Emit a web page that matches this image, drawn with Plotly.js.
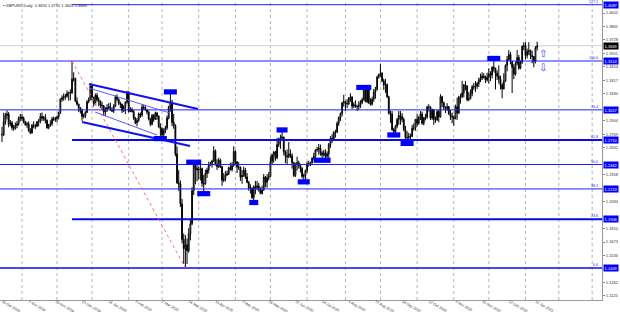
<!DOCTYPE html>
<html><head><meta charset="utf-8">
<script src="https://cdn.plot.ly/plotly-3.0.1.min.js"></script>
<style>html,body{margin:0;padding:0;background:#fff}#chart{width:620px;height:312px}</style>
</head><body><div id="chart"></div><script>
// ---- data: GBPUSD daily, 16 Oct 2019 .. 13 Jan 2021 ----
const symbolTitle = 'GBPUSD,Daily';
const startDate = [2019, 9, 16];
const holidays = ['2019-12-25','2020-01-01','2020-12-25','2021-01-01'];

const open = [
 1.2770,1.2765,1.2895,1.2960,1.2975,1.2870,1.2885,1.2835,1.2830,1.2860,1.2875,1.2935,
 1.2945,1.2930,1.2890,1.2865,1.2875,1.2805,1.2780,1.2860,1.2855,1.2850,1.2895,1.2900,1.2950,1.2930,1.2940,1.2910,1.2835,1.2860,1.2875,1.2925,1.2920,
 1.2930,1.2945,1.2990,1.3125,1.3140,1.3150,1.3155,1.3185,1.3195,1.3190,1.3330,1.3335,1.3105,1.3075,1.3035,1.3010,1.2950,1.2955,1.2990,1.3100,1.3120,
 1.3260,1.3145,1.3080,1.3165,1.3120,1.3105,1.3065,1.3060,1.2995,1.3020,1.3040,1.3050,1.3015,1.3005,1.3055,1.3150,1.3125,1.3085,1.3075,1.3010,1.3050,1.3095,
 1.3200,1.3000,1.3020,1.3000,1.2935,1.2885,1.2910,1.2975,1.2965,1.3045,1.3040,1.3015,1.2995,1.2925,1.2870,1.2960,1.2920,1.2985,1.2955,1.2845,
 1.2825,1.2765,1.2805,1.2835,1.2935,1.3050,1.3095,1.2890,1.2860,1.2570,1.2275,1.2265,1.2060,1.1700,1.1605,1.1645,1.1585,1.1755,1.1860,1.2195,1.2455,1.2420,
 1.2405,1.2410,1.2420,1.2270,1.2265,1.2370,1.2405,1.2455,1.2470,1.2495,1.2600,1.2465,1.2440,1.2505,1.2440,1.2300,1.2320,1.2355,1.2365,1.2430,1.2410,1.2450,
 1.2595,1.2490,1.2435,1.2435,1.2335,1.2350,1.2405,1.2335,1.2280,1.2220,1.2220,1.2125,1.2235,1.2225,1.2245,1.2210,1.2165,1.2200,1.2335,1.2280,1.2325,
 1.2340,1.2490,1.2560,1.2590,1.2530,1.2665,1.2720,1.2730,1.2740,1.2590,1.2550,1.2540,1.2570,1.2550,1.2480,1.2350,1.2470,1.2480,1.2450,1.2420,1.2340,1.2350,
 1.2400,1.2470,1.2470,1.2480,1.2525,1.2545,1.2610,1.2615,1.2630,1.2580,1.2560,1.2580,1.2545,1.2570,1.2665,1.2730,1.2720,1.2790,1.2790,1.2880,1.2940,1.2980,1.3090,
 1.3100,1.3080,1.3080,1.3140,1.3150,1.3055,1.3070,1.3050,1.3050,1.3060,1.3090,1.3120,1.3230,1.3100,1.3220,1.3090,1.3075,1.3125,1.3200,1.3225,1.3350,
 1.3375,1.3390,1.3310,1.3270,1.3275,1.3150,1.2980,1.2975,1.2815,1.2795,1.2850,1.2920,1.2960,1.2950,1.2920,1.2815,1.2735,1.2735,1.2750,1.2745,1.2830,1.2830,
 1.2920,1.2880,1.2940,1.2975,1.2880,1.2935,1.2945,1.3045,1.3045,1.2935,1.3020,1.2920,1.2915,1.3000,1.2945,1.3150,1.3090,1.3040,1.3030,1.3050,1.2980,1.2950,
 1.2945,1.2930,1.3050,1.2985,1.3150,1.3150,1.3190,1.3270,1.3260,1.3120,1.3130,1.3180,1.3250,1.3250,1.3260,1.3285,1.3320,1.3340,1.3360,1.3350,1.3320,
 1.3350,1.3385,1.3370,1.3450,1.3440,1.3390,1.3360,1.3330,1.3270,1.3230,1.3310,1.3470,1.3530,1.3580,1.3510,1.3450,1.3380,1.3490,1.3550,1.3440,1.3500,1.3665,
 1.3670,1.3570,1.3610,1.3620,1.3570,1.3560,1.3510,1.3650
];
const high = [
 1.2845,1.2988,1.2988,1.3012,1.2995,1.2915,1.2905,1.2865,1.2890,1.2905,1.2950,1.2975,
 1.2975,1.2950,1.2905,1.2895,1.2900,1.2830,1.2875,1.2900,1.2875,1.2905,1.2925,1.2985,1.2990,1.2955,1.2975,1.2920,1.2875,1.2910,1.2945,1.2950,1.2945,
 1.2960,1.3000,1.3135,1.3165,1.3185,1.3180,1.3215,1.3200,1.3225,1.3514,1.3400,1.3345,1.3145,1.3080,1.3045,1.3030,1.2980,1.3005,1.3115,1.3145,1.3285,
 1.3265,1.3150,1.3185,1.3190,1.3145,1.3115,1.3100,1.3065,1.3045,1.3075,1.3085,1.3090,1.3040,1.3075,1.3165,1.3175,1.3135,1.3100,1.3080,1.3065,1.3105,1.3210,
 1.3205,1.3045,1.3040,1.3015,1.2945,1.2935,1.2990,1.2990,1.3070,1.3070,1.3055,1.3025,1.3010,1.2935,1.2975,1.2975,1.3000,1.2995,1.2960,1.2880,
 1.2840,1.2830,1.2855,1.2960,1.3060,1.3200,1.3120,1.2975,1.2870,1.2645,1.2405,1.2300,1.2110,1.1760,1.1745,1.1710,1.1815,1.1900,1.2230,1.2485,1.2460,1.2480,
 1.2440,1.2480,1.2430,1.2355,1.2410,1.2430,1.2490,1.2490,1.2510,1.2647,1.2615,1.2515,1.2530,1.2520,1.2445,1.2375,1.2395,1.2400,1.2440,1.2480,1.2485,1.2647,
 1.2605,1.2495,1.2485,1.2440,1.2405,1.2440,1.2425,1.2375,1.2295,1.2260,1.2230,1.2250,1.2295,1.2295,1.2275,1.2230,1.2245,1.2365,1.2345,1.2365,1.2385,
 1.2545,1.2570,1.2595,1.2600,1.2730,1.2735,1.2765,1.2813,1.2745,1.2605,1.2615,1.2690,1.2615,1.2575,1.2490,1.2480,1.2540,1.2500,1.2470,1.2435,1.2370,1.2410,
 1.2490,1.2500,1.2490,1.2535,1.2580,1.2615,1.2640,1.2670,1.2665,1.2600,1.2610,1.2615,1.2595,1.2680,1.2750,1.2770,1.2800,1.2815,1.2900,1.2950,1.2990,1.3095,1.3170,
 1.3110,1.3125,1.3145,1.3185,1.3150,1.3095,1.3115,1.3070,1.3105,1.3115,1.3140,1.3245,1.3235,1.3240,1.3235,1.3135,1.3150,1.3230,1.3250,1.3365,1.3385,
 1.3482,1.3400,1.3335,1.3330,1.3285,1.3160,1.3010,1.3005,1.2835,1.2865,1.2935,1.3005,1.3005,1.2985,1.2940,1.2855,1.2800,1.2785,1.2775,1.2865,1.2880,1.2925,
 1.2975,1.2955,1.3005,1.3000,1.2945,1.2975,1.3060,1.3075,1.3055,1.3030,1.3025,1.2950,1.3015,1.3020,1.3177,1.3160,1.3100,1.3055,1.3085,1.3055,1.3015,1.2990,
 1.2960,1.3070,1.3140,1.3160,1.3180,1.3313,1.3280,1.3310,1.3265,1.3200,1.3225,1.3270,1.3290,1.3310,1.3300,1.3345,1.3385,1.3400,1.3390,1.3365,1.3395,
 1.3440,1.3410,1.3460,1.3540,1.3445,1.3420,1.3470,1.3365,1.3290,1.3390,1.3480,1.3565,1.3625,1.3605,1.3515,1.3480,1.3510,1.3625,1.3575,1.3520,1.3670,1.3705,
 1.3705,1.3640,1.3705,1.3630,1.3620,1.3565,1.3665,1.3710
];
const low = [
 1.2690,1.2750,1.2865,1.2920,1.2840,1.2850,1.2810,1.2805,1.2815,1.2830,1.2855,1.2900,
 1.2905,1.2880,1.2855,1.2835,1.2795,1.2770,1.2780,1.2830,1.2820,1.2840,1.2850,1.2880,1.2905,1.2905,1.2880,1.2825,1.2820,1.2845,1.2855,1.2905,1.2895,
 1.2890,1.2920,1.2975,1.3100,1.3110,1.3120,1.3140,1.3110,1.3115,1.3180,1.3305,1.3095,1.3060,1.2995,1.2980,1.2905,1.2930,1.2935,1.2985,1.3085,1.3115,
 1.3115,1.3050,1.3065,1.3100,1.3055,1.3035,1.3015,1.2960,1.2955,1.2995,1.3025,1.3010,1.2995,1.2985,1.3045,1.3105,1.3065,1.3035,1.2985,1.2995,1.2975,1.3080,
 1.2990,1.2995,1.2990,1.2915,1.2870,1.2850,1.2895,1.2935,1.2945,1.3015,1.3005,1.2970,1.2910,1.2850,1.2860,1.2895,1.2915,1.2915,1.2835,1.2725,
 1.2735,1.2740,1.2780,1.2815,1.2920,1.3000,1.2850,1.2825,1.2545,1.2265,1.2195,1.2030,1.1660,1.1450,1.1409,1.1450,1.1565,1.1690,1.1845,1.2150,1.2260,1.2290,
 1.2310,1.2300,1.2235,1.2165,1.2255,1.2325,1.2370,1.2445,1.2430,1.2485,1.2450,1.2405,1.2425,1.2425,1.2245,1.2280,1.2290,1.2345,1.2355,1.2400,1.2390,1.2440,
 1.2455,1.2375,1.2405,1.2295,1.2265,1.2335,1.2315,1.2270,1.2195,1.2165,1.2110,1.2075,1.2160,1.2200,1.2185,1.2160,1.2160,1.2195,1.2230,1.2225,1.2300,
 1.2335,1.2465,1.2480,1.2500,1.2515,1.2640,1.2620,1.2710,1.2555,1.2475,1.2460,1.2525,1.2530,1.2420,1.2335,1.2335,1.2400,1.2420,1.2380,1.2320,1.2285,1.2300,
 1.2375,1.2440,1.2445,1.2470,1.2505,1.2525,1.2590,1.2560,1.2550,1.2505,1.2540,1.2525,1.2515,1.2530,1.2630,1.2680,1.2710,1.2735,1.2780,1.2855,1.2905,1.2950,1.3050,
 1.3005,1.3035,1.3065,1.3100,1.3025,1.3035,1.3040,1.3005,1.3015,1.3035,1.3075,1.3110,1.3095,1.3085,1.3075,1.3060,1.3060,1.3100,1.3130,1.3215,1.3335,
 1.3355,1.3300,1.3220,1.3190,1.3140,1.2970,1.2885,1.2805,1.2762,1.2780,1.2830,1.2865,1.2865,1.2890,1.2800,1.2720,1.2676,1.2685,1.2690,1.2740,1.2805,1.2805,
 1.2845,1.2865,1.2915,1.2865,1.2860,1.2910,1.2925,1.3000,1.2915,1.2915,1.2865,1.2885,1.2905,1.2890,1.2940,1.3045,1.3015,1.2985,1.3005,1.2965,1.2915,1.2880,
 1.2855,1.2920,1.2915,1.2975,1.3080,1.3135,1.3145,1.3215,1.3105,1.3105,1.3125,1.3155,1.3220,1.3200,1.3230,1.3250,1.3300,1.3320,1.3335,1.3290,1.3305,
 1.3285,1.3310,1.3335,1.3405,1.3225,1.3320,1.3285,1.3225,1.3135,1.3225,1.3300,1.3410,1.3515,1.3480,1.3188,1.3330,1.3365,1.3470,1.3425,1.3430,1.3485,1.3625,
 1.3530,1.3540,1.3575,1.3535,1.3490,1.3450,1.3490,1.3620
];
const close = [
 1.2765,1.2895,1.2960,1.2975,1.2870,1.2885,1.2835,1.2830,1.2860,1.2875,1.2935,1.2945,
 1.2930,1.2890,1.2865,1.2875,1.2805,1.2780,1.2860,1.2855,1.2850,1.2895,1.2900,1.2950,1.2930,1.2940,1.2910,1.2835,1.2860,1.2875,1.2925,1.2920,1.2930,
 1.2945,1.2990,1.3125,1.3140,1.3150,1.3155,1.3185,1.3195,1.3190,1.3330,1.3335,1.3105,1.3075,1.3035,1.3010,1.2950,1.2955,1.2990,1.3100,1.3120,1.3260,
 1.3145,1.3080,1.3165,1.3120,1.3105,1.3065,1.3060,1.2995,1.3020,1.3040,1.3050,1.3015,1.3005,1.3055,1.3150,1.3125,1.3085,1.3075,1.3010,1.3050,1.3095,1.3200,
 1.3000,1.3020,1.3000,1.2935,1.2885,1.2910,1.2975,1.2965,1.3045,1.3040,1.3015,1.2995,1.2925,1.2870,1.2960,1.2920,1.2985,1.2955,1.2845,1.2825,
 1.2765,1.2805,1.2835,1.2935,1.3050,1.3095,1.2890,1.2860,1.2570,1.2275,1.2265,1.2060,1.1700,1.1605,1.1645,1.1585,1.1755,1.1860,1.2195,1.2455,1.2420,1.2405,
 1.2410,1.2420,1.2270,1.2265,1.2370,1.2405,1.2455,1.2470,1.2495,1.2600,1.2465,1.2440,1.2505,1.2440,1.2300,1.2320,1.2355,1.2365,1.2430,1.2410,1.2450,1.2595,
 1.2490,1.2435,1.2435,1.2335,1.2350,1.2405,1.2335,1.2280,1.2220,1.2220,1.2125,1.2235,1.2225,1.2245,1.2210,1.2165,1.2200,1.2335,1.2280,1.2325,1.2340,
 1.2490,1.2560,1.2590,1.2530,1.2665,1.2720,1.2730,1.2740,1.2590,1.2550,1.2540,1.2570,1.2550,1.2480,1.2350,1.2470,1.2480,1.2450,1.2420,1.2340,1.2350,1.2400,
 1.2470,1.2470,1.2480,1.2525,1.2545,1.2610,1.2615,1.2630,1.2580,1.2560,1.2580,1.2545,1.2570,1.2665,1.2730,1.2720,1.2790,1.2790,1.2880,1.2940,1.2980,1.3090,1.3100,
 1.3080,1.3080,1.3140,1.3150,1.3055,1.3070,1.3050,1.3050,1.3060,1.3090,1.3120,1.3230,1.3100,1.3220,1.3090,1.3075,1.3125,1.3200,1.3225,1.3350,1.3375,
 1.3390,1.3310,1.3270,1.3275,1.3150,1.2980,1.2975,1.2815,1.2795,1.2850,1.2920,1.2960,1.2950,1.2920,1.2815,1.2735,1.2735,1.2750,1.2745,1.2830,1.2830,1.2920,
 1.2880,1.2940,1.2975,1.2880,1.2935,1.2945,1.3045,1.3045,1.2935,1.3020,1.2920,1.2915,1.3000,1.2945,1.3150,1.3090,1.3040,1.3030,1.3050,1.2980,1.2950,1.2945,
 1.2930,1.3050,1.2985,1.3150,1.3150,1.3190,1.3270,1.3260,1.3120,1.3130,1.3180,1.3250,1.3250,1.3260,1.3285,1.3320,1.3340,1.3360,1.3350,1.3320,1.3350,
 1.3385,1.3370,1.3450,1.3440,1.3390,1.3360,1.3330,1.3270,1.3230,1.3310,1.3470,1.3530,1.3580,1.3510,1.3450,1.3380,1.3490,1.3550,1.3440,1.3500,1.3665,1.3670,
 1.3570,1.3610,1.3620,1.3570,1.3560,1.3510,1.3650,1.3669
];

// time axis labels (one every 16 bars)
const tickLabels = ['16 Oct 2019','7 Nov 2019','29 Nov 2019','23 Dec 2019','16 Jan 2020','7 Feb 2020','2 Mar 2020',
 '24 Mar 2020','15 Apr 2020','7 May 2020','29 May 2020','22 Jun 2020','14 Jul 2020','5 Aug 2020','27 Aug 2020',
 '18 Sep 2020','12 Oct 2020','3 Nov 2020','25 Nov 2020','17 Dec 2020','12 Jan 2021'];
const barsPerLabel = 16;
// price scale labels
const priceTicks = [1.4002,1.3865,1.3728,1.3591,1.3454,1.3317,1.3180,1.3043,1.2906,1.2769,1.2632,1.2495,
 1.2358,1.2221,1.2084,1.1947,1.1810,1.1673,1.1536,1.1399,1.1262,1.1125];

// Fibonacci retracement (anchored on bar of high and bar of low)
const fibHighBar = 42, fibLowBar = 110;
const fibLevels = [127.2, 100.0, 76.4, 61.8, 50.0, 38.2, 23.6, 0.0];
const fibFromLeftEdge = [false, true, true, false, true, true, false, true];
const fibLineWidth = [1, 1, 1, 2, 1, 1, 2, 1.5];

// swing-point markers: bar index and whether at high or low
const swingBars = [101, 95, 115, 121, 151, 168, 181, 192, 217, 235, 243, 295];
const swingSide = ['h','l','h','l','l','h','l','l','h','l','l','h'];
const swingWidth = [13, 13, 15, 13, 9, 11, 12, 17, 15, 13, 13, 13];

// drawn channel lines: [startBar, startPrice, endBar, endPrice]
const channelStartBar = [52.2, 48.0, 52.2, 55.8];
const channelStartPrice = [1.3280, 1.2894, 1.3239, 1.2995];
const channelEndBar = [117.6, 112.8, 100.8, 93.0];
const channelEndPrice = [1.3026, 1.2650, 1.2985, 1.2761];
const channelWidth = [2, 2, 1, 1];

// up / down arrow objects
const arrowBars = [324.5, 324.5];
const arrowPrices = [1.3595, 1.3443];
const arrowGlyphs = ['\u21E7', '\u21E9'];

// ---- build ----
const n = close.length;
const xs = close.map((_, i) => i);
const xRange = [-1.2, 359.9];
const yRange = [1.10837, 1.41343];
const plotHeightPx = 300;

function tradingDays(count) {
  const out = [];
  const d = new Date(Date.UTC(startDate[0], startDate[1], startDate[2]));
  while (out.length < count) {
    const wd = d.getUTCDay();
    const s = d.toISOString().slice(0, 10);
    if (wd !== 0 && wd !== 6 && !holidays.includes(s)) out.push(s);
    d.setUTCDate(d.getUTCDate() + 1);
  }
  return out;
}
const days = tradingDays(Math.ceil(xRange[1]) + 1);
const monthStarts = [];
for (let i = 1; i < days.length; i++) if (days[i].slice(0, 7) !== days[i - 1].slice(0, 7)) monthStarts.push(i);

const BLUE = '#1f1fff';
const shapes = [];
const annotations = [];
const last = n - 1;

monthStarts.forEach(i => shapes.push({type:'line', xref:'x', yref:'paper', x0:i, x1:i, y0:0, y1:1,
  line:{color:'#b4b4b4', width:1, dash:'dot'}, layer:'below'}));

shapes.push({type:'line', xref:'paper', yref:'y', x0:0, x1:1, y0:close[last], y1:close[last],
  line:{color:'#cfcfcf', width:1}, layer:'below'});

const fHi = high[fibHighBar], fLo = low[fibLowBar];
const boxPrices = [close[last]];
fibLevels.forEach((lv, k) => {
  const p = fLo + (fHi - fLo) * lv / 100;
  boxPrices.push(p);
  shapes.push({type:'line', xref:'x', yref:'y', x0: fibFromLeftEdge[k] ? xRange[0] : fibHighBar, x1: xRange[1],
    y0:p, y1:p, line:{color: fibLineWidth[k] > 1 ? '#0a0aee' : BLUE, width: fibLineWidth[k]}});
  annotations.push({xref:'paper', yref:'y', x:1, y:p, xanchor:'right', yanchor:'bottom', xshift:-2, yshift:-1,
    text: lv.toFixed(1), showarrow:false, font:{size:3.6, color:BLUE}});
  annotations.push({xref:'paper', yref:'y', x:1, y:p, xanchor:'left', yanchor:'middle', xshift:1,
    text: p.toFixed(4), showarrow:false, bgcolor:'#0000ff', borderpad:0.6, font:{size:4, color:'#ffffff'}});
});
// scale labels hidden under the price boxes are not drawn
const pxPerPrice = plotHeightPx / (yRange[1] - yRange[0]);
const shownTicks = priceTicks.filter(t => boxPrices.every(b => Math.abs(b - t) * pxPerPrice > 5.5));

shapes.push({type:'line', xref:'x', yref:'y', x0:fibHighBar, y0:fHi, x1:fibLowBar, y1:fLo,
  line:{color:'#ff6e6e', width:1, dash:'dot'}});

channelStartBar.forEach((b, k) => shapes.push({type:'line', xref:'x', yref:'y',
  x0:b, y0:channelStartPrice[k], x1:channelEndBar[k], y1:channelEndPrice[k],
  line:{color: channelWidth[k] > 1 ? '#1010f0' : '#5a5aff', width: channelWidth[k]}}));

swingBars.forEach((b, k) => {
  const p = swingSide[k] === 'h' ? high[b] : low[b];
  shapes.push({type:'rect', xref:'x', yref:'y', xsizemode:'pixel', ysizemode:'pixel',
    xanchor:b, yanchor:p, x0:-swingWidth[k] / 2, x1:swingWidth[k] / 2, y0:-2.6, y1:2.6,
    fillcolor:'#0000ff', line:{width:0}});
});

arrowBars.forEach((b, k) => annotations.push({xref:'x', yref:'y', x:b, y:arrowPrices[k], text:arrowGlyphs[k],
  showarrow:false, font:{family:'DejaVu Sans', size:10, color:'#3c3cff'}}));

annotations.push({xref:'paper', yref:'y', x:1, y:close[last], xanchor:'left', yanchor:'middle', xshift:1,
  text: close[last].toFixed(4), showarrow:false, bgcolor:'#000000', borderpad:0.6, font:{size:4, color:'#ffffff'}});

annotations.push({xref:'paper', yref:'paper', x:0, y:1, xanchor:'left', yanchor:'top', xshift:1, yshift:-1,
  text:'\u25AA ' + symbolTitle + '  ' + [open[last], high[last], low[last], close[last]].map(v => v.toFixed(4)).join(' '),
  showarrow:false, font:{size:4, color:'#222'}});

const trace = {
  type:'candlestick', x:xs, open:open, high:high, low:low, close:close,
  increasing:{line:{color:'#000000', width:1}, fillcolor:'#ffffff'},
  decreasing:{line:{color:'#000000', width:1}, fillcolor:'#000000'},
  whiskerwidth:0, hoverinfo:'skip'
};

const layout = {
  width:620, height:312, margin:{l:0, r:18, t:0, b:12, pad:0},
  paper_bgcolor:'#ffffff', plot_bgcolor:'#ffffff', showlegend:false,
  font:{family:'Liberation Sans, Arial, sans-serif', size:4, color:'#333'},
  xaxis:{range:xRange, tickvals: tickLabels.map((_, k) => k * barsPerLabel), ticktext: tickLabels,
    ticklabelposition:'outside right', ticklabelstandoff:-3, showgrid:false, zeroline:false, ticks:'',
    tickfont:{size:3.7, color:'#333'},
    showline:true, linecolor:'#9a9a9a', linewidth:1, rangeslider:{visible:false}, fixedrange:true},
  yaxis:{range:yRange, side:'right', tickvals:shownTicks, ticktext:shownTicks.map(v => v.toFixed(4)),
    showgrid:false, zeroline:false, ticks:'outside', ticklen:2, tickcolor:'#888', tickfont:{size:4, color:'#333'},
    showline:true, linecolor:'#9a9a9a', linewidth:1, mirror:true, fixedrange:true},
  shapes:shapes, annotations:annotations
};

Plotly.newPlot('chart', [trace], layout, {staticPlot:true, displayModeBar:false});
</script></body></html>
